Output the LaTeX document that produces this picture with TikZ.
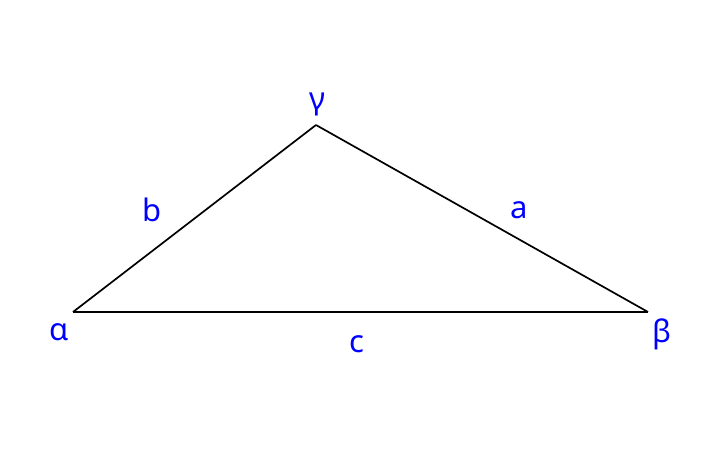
\documentclass[tikz,border=0pt]{standalone}
\usepackage{fontspec}
\setmainfont{Noto Sans}
\begin{document}
\begin{tikzpicture}[x=1pt,y=1pt]
\tikzstyle{every node}=[text=blue,font=\fontsize{31}{36}\selectfont,inner sep=0pt];
\useasboundingbox (0,0) rectangle (718,465);
\coordinate (A) at (73,153);
\coordinate (B) at (648,153);
\coordinate (C) at (316,340);
\foreach \from/\to in {A/B, B/C, C/A}
    \draw [line width=1.7pt] (\from) -- (\to);
\node (alpha) at (59,133) {α};
\node (beta) at (662,131) {β};
\node (gamma) at (317,361) {γ};
\node (sa) at (519,255) {a};
\node (sb) at (152,255) {b};
\node (sc) at (357,121) {c};
\end{tikzpicture}
\end{document}
